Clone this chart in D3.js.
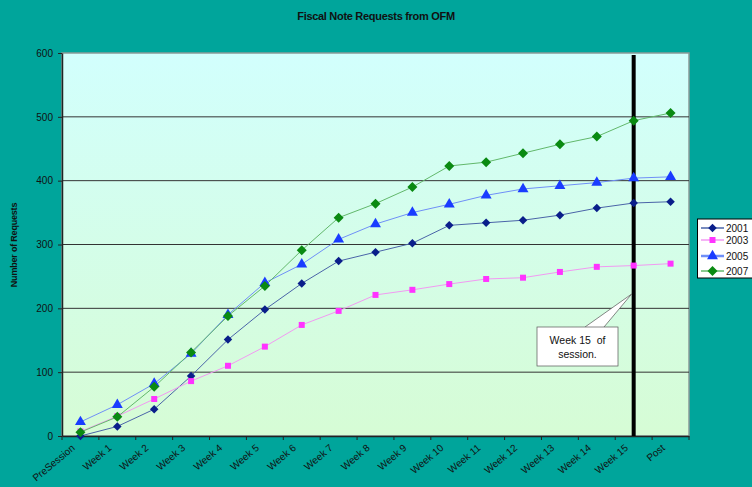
<!DOCTYPE html>
<html><head><meta charset="utf-8">
<script src="https://cdn.jsdelivr.net/npm/d3@7"></script>
<style>
html,body{margin:0;padding:0;background:#00A59B;}
svg{display:block;}
text{font-family:Arial,"Liberation Sans",sans-serif;}
</style></head>
<body>
<script>
const categories = ["PreSession","Week 1","Week 2","Week 3","Week 4","Week 5","Week 6","Week 7","Week 8","Week 9","Week 10","Week 11","Week 12","Week 13","Week 14","Week 15","Post"];
const s2001 = [0,15,42,94,151,198,239,274,288,302,330,334,338,346,357,365,367];
const s2003 = [7,31,58,86,110,140,174,196,221,229,238,246,248,257,265,267,270];
const s2005 = [22,49,82,129,190,240,269,308,332,350,363,377,387,392,397,404,406];
const s2007 = [6,30,77,131,188,235,291,342,364,390,423,429,443,457,469,494,506];
const seriesNames = ["2001","2003","2005","2007"];
const yTicks = [0,100,200,300,400,500,600];
const markerLine = "Week 15";
const calloutText = ["Week 15  of","session."];

const W=752,H=487;
const m={l:62,r:689,t:53,b:436};
const svg=d3.select("body").append("svg").attr("width",W).attr("height",H);
const defs=svg.append("defs");
const g=defs.append("linearGradient").attr("id","bg").attr("x1",0).attr("y1",0).attr("x2",0).attr("y2",1);
g.append("stop").attr("offset","0%").attr("stop-color","#D2FFFD");
g.append("stop").attr("offset","100%").attr("stop-color","#D6FCD5");

const x=d3.scaleBand().domain(categories).range([m.l,m.r]);
const y=d3.scaleLinear().domain([0,600]).range([m.b,m.t]);
const cx=c=>x(c)+x.bandwidth()/2;

svg.append("rect").attr("x",m.l).attr("y",m.t).attr("width",m.r-m.l).attr("height",m.b-m.t)
  .attr("fill","url(#bg)").attr("stroke","#8a9a98").attr("stroke-width",1.5);

// gridlines
svg.append("g").selectAll("line").data(yTicks.filter(d=>d>0&&d<600)).join("line")
  .attr("x1",m.l).attr("x2",m.r).attr("y1",d=>y(d)).attr("y2",d=>y(d))
  .attr("stroke","#333").attr("stroke-width",1);

// title
svg.append("text").attr("x",376).attr("y",20).attr("text-anchor","middle")
  .attr("font-size",11).attr("font-weight","bold").attr("fill","#111").attr("letter-spacing","-0.3")
  .text("Fiscal Note Requests from OFM");
svg.append("text").attr("transform","translate(17,245) rotate(-90)").attr("text-anchor","middle")
  .attr("font-size",9).attr("font-weight","bold").attr("fill","#111").attr("letter-spacing","-0.2")
  .text("Number of Requests");

// y axis
const ya=svg.append("g").attr("transform",`translate(${m.l},0)`)
  .call(d3.axisLeft(y).tickValues(yTicks).tickSize(4).tickSizeOuter(0).tickPadding(5));
ya.select(".domain").attr("stroke","#222").attr("stroke-width",1.5);
ya.selectAll(".tick line").attr("stroke","#222");
ya.selectAll("text").attr("font-size",10).attr("fill","#111").attr("font-family","Arial,'Liberation Sans',sans-serif");

// x axis
const xa=svg.append("g").attr("transform",`translate(0,${m.b})`)
  .call(d3.axisBottom(x).tickSize(0).tickPadding(0));
xa.select(".domain").attr("stroke","#222").attr("stroke-width",1.5);
xa.selectAll(".tick line").remove();
xa.selectAll(".tick text").attr("font-size",10).attr("fill","#111")
  .attr("font-family","Arial,'Liberation Sans',sans-serif")
  .attr("text-anchor","end").attr("dy",0).attr("y",0)
  .attr("transform","translate(-5,13) rotate(-40)");
// tick marks at band boundaries
const bounds=categories.map(c=>x(c)).concat([m.r]);
svg.append("g").selectAll("line").data(bounds).join("line")
  .attr("x1",d=>d).attr("x2",d=>d).attr("y1",m.b).attr("y2",m.b+4).attr("stroke","#222");

// vertical marker
svg.append("line").attr("x1",cx(markerLine)).attr("x2",cx(markerLine))
  .attr("y1",m.t+2).attr("y2",m.b).attr("stroke","#000").attr("stroke-width",4);

// wide diamond (rotated square) symbol
const wideDiamond={draw(ctx,size){const r=Math.sqrt(size/2);ctx.moveTo(0,-r);ctx.lineTo(r,0);ctx.lineTo(0,r);ctx.lineTo(-r,0);ctx.closePath();}};
const series=[
 {name:"2001",data:s2001,line:"#4a64a8",mark:"#0a1e8a",shape:"diamond",size:36},
 {name:"2003",data:s2003,line:"#f29af2",mark:"#ff33ff",shape:"square",size:36},
 {name:"2005",data:s2005,line:"#6f8ff7",mark:"#1a3cff",shape:"triangle",size:52},
 {name:"2007",data:s2007,line:"#62b86b",mark:"#0a8a12",shape:"diamond",size:50}
];
const symType={diamond:wideDiamond,square:d3.symbolSquare,triangle:d3.symbolTriangle};
const line=d3.line().x((d,i)=>cx(categories[i])).y(d=>y(d));
series.forEach(s=>{
  svg.append("path").attr("d",line(s.data)).attr("fill","none").attr("stroke",s.line).attr("stroke-width",1);
});
series.forEach(s=>{
  svg.append("g").selectAll("path").data(s.data).join("path")
   .attr("transform",(d,i)=>`translate(${cx(categories[i])},${y(d)})`)
   .attr("d",d3.symbol().type(symType[s.shape]).size(s.size)).attr("fill",s.mark);
});

// callout
const bx=537,by=327,bw=81,bh=39;
const tipX=cx(markerLine)-2, tipY=294;
svg.append("path").attr("d",`M${bx+48},${by} L${tipX},${tipY} L${bx+67},${by}`)
  .attr("fill","#fff").attr("stroke","#555").attr("stroke-width",0.7);
svg.append("rect").attr("x",bx).attr("y",by).attr("width",bw).attr("height",bh)
  .attr("fill","#fff").attr("stroke","#555").attr("stroke-width",0.7);
svg.append("text").attr("x",bx+bw/2).attr("y",by+17).attr("text-anchor","middle").attr("font-size",10.5)
  .attr("fill","#111").attr("xml:space","preserve").style("white-space","pre").text(calloutText[0]);
svg.append("text").attr("x",bx+bw/2).attr("y",by+31).attr("text-anchor","middle").attr("font-size",10.5)
  .attr("fill","#111").text(calloutText[1]);

// legend
const lg=svg.append("g");
lg.append("rect").attr("x",697.5).attr("y",219).attr("width",60).attr("height",59)
  .attr("fill","#fff").attr("stroke","#000").attr("stroke-width",1);
const ly=[228,240,256,271];
series.forEach((s,i)=>{
  lg.append("line").attr("x1",701).attr("x2",724).attr("y1",ly[i]).attr("y2",ly[i])
    .attr("stroke",s.line).attr("stroke-width",s.name==="2005"?2.5:1.5);
  lg.append("path").attr("transform",`translate(712.5,${ly[i]})`)
    .attr("d",d3.symbol().type(symType[s.shape]).size(s.size)).attr("fill",s.mark);
  lg.append("text").attr("x",726).attr("y",ly[i]+3.5).attr("font-size",10).attr("fill","#111").text(seriesNames[i]);
});
</script>
</body></html>
